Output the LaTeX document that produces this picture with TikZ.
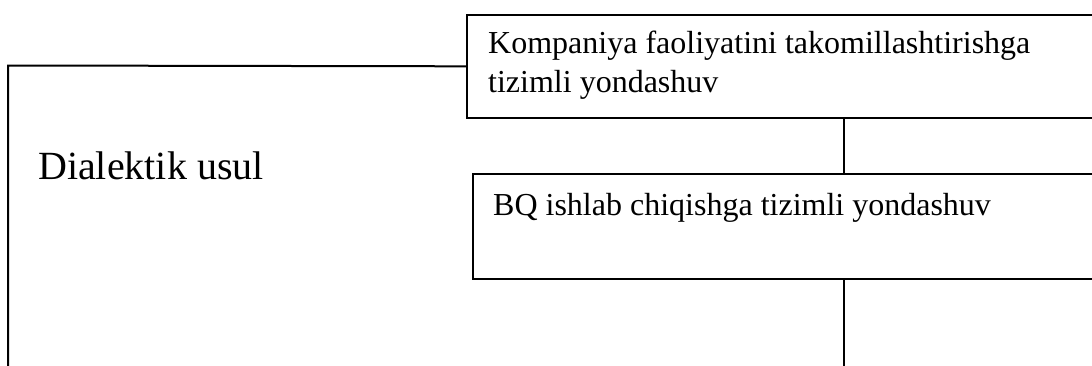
\documentclass[tikz,border=0pt]{standalone}
\usepackage{fontspec}
\setmainfont{Liberation Serif}
\begin{document}
\begin{tikzpicture}[x=1pt,y=-1pt,
  frame/.style={draw=black,line width=1.6pt},
  panel/.style={frame,rectangle,inner sep=0pt,anchor=north west},
  label/.style={inner sep=0pt,anchor=base west,font=\fontsize{32}{40}\selectfont}]
  \useasboundingbox (0,0) rectangle (1092,365);
  \clip (0,0) rectangle (1092,365);
  % upper box and its caption
  \node[panel,minimum width=640pt,minimum height=103pt] (top) at (466,14) {};
  \node[label] (toptxt1) at (488,53) {Kompaniya faoliyatini takomillashtirishga};
  \node[label] (toptxt2) at (488,92) {tizimli yondashuv};
  % lower box and its caption
  \node[panel,minimum width=640pt,minimum height=105pt] (mid) at (472,173) {};
  \node[label] (midtxt) at (493,215) {BQ ishlab chiqishga tizimli yondashuv};
  % outer frame running off to the left and down
  \coordinate (corner) at (8,65.5);
  \coordinate (leftend) at (8,380);
  \draw[frame,line width=2pt] (top.west) -- (corner) -- (leftend);
  \node[inner sep=0pt,anchor=base west,font=\fontsize{40}{48}\selectfont] (dial) at (38,179) {Dialektik usul};
  % vertical links
  \coordinate (axis) at (844,0);
  \coordinate (downend) at (844,380);
  \draw[frame] (top.south -| axis) -- (mid.north -| axis);
  \draw[frame] (mid.south -| axis) -- (downend);
\end{tikzpicture}
\end{document}
